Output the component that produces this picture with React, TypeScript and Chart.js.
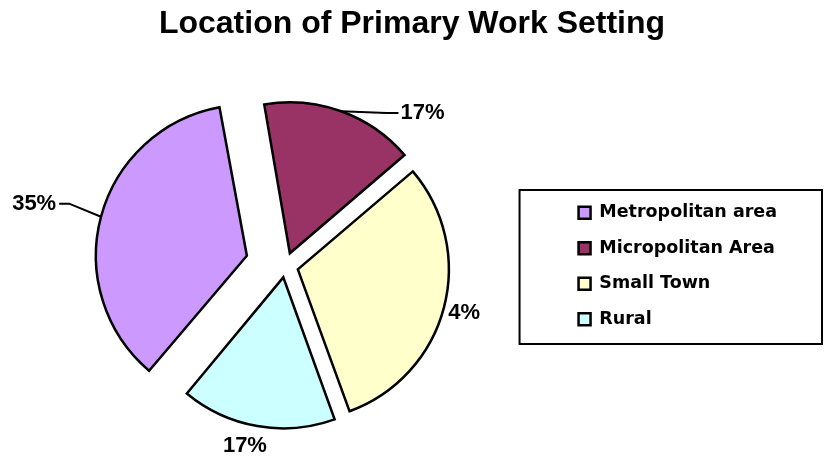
import React, { useEffect, useRef } from "react";
import { Chart, registerables } from "chart.js";

Chart.register(...registerables);

// ---- data ----
const TITLE = "Location of Primary Work Setting";
const categories = ["Metropolitan area", "Micropolitan Area", "Small Town", "Rural"];
// slice sizes (share of the pie)
const shares = [36.2, 16.5, 30.7, 16.6];
// data labels exactly as printed on the chart
const pctLabels = ["35%", "17%", "4%", "17%"];

// ---- styling ----
const colors = ["#CC99FF", "#993366", "#FFFFCC", "#CCFFFF"];
const EXPLODE = [159, 54, 52, 46]; // chart.js arc offset (translation = offset / 4)
const RADIUS = 151;
const START_ROTATION = 219.8;
const ARIAL = "'Liberation Sans', Arial, Helvetica, sans-serif";
const LEGEND_FONT = "'DejaVu Sans', 'Liberation Sans', sans-serif";
const TITLE_AREA = 74;

// label placement relative to each slice's own (exploded) centre
const LABEL_PLACE = [
  { dAngle: -1.2, dist: 219, leader: true },
  { dAngle: 23.6, dist: 193, leader: true },
  { dAngle: 0, dist: 172, leader: false },
  { dAngle: 2.9, dist: 173, leader: false },
];

// keep every exploded slice at the same visible radius
const radiusFix = {
  id: "radiusFix",
  afterDatasetsUpdate(chart: any) {
    const meta = chart.getDatasetMeta(0);
    meta.data.forEach((el: any) => {
      const off = ((el.options && el.options.offset) || 0) / 4;
      const fix = 1 - Math.sin(Math.min(Math.PI, el.circumference || 0));
      el.outerRadius = RADIUS - off * fix;
    });
  },
};

// title centred on the whole canvas width
const pageTitle = {
  id: "pageTitle",
  afterDraw(chart: any) {
    const ctx = chart.ctx as CanvasRenderingContext2D;
    ctx.save();
    ctx.font = `bold 32px ${ARIAL}`;
    ctx.fillStyle = "#000";
    ctx.textAlign = "center";
    ctx.textBaseline = "middle";
    ctx.fillText(TITLE, chart.width / 2, 24);
    ctx.restore();
  },
};

const pieLabels = {
  id: "pieLabels",
  afterDatasetsDraw(chart: any) {
    const ctx = chart.ctx as CanvasRenderingContext2D;
    const meta = chart.getDatasetMeta(0);
    ctx.save();
    ctx.font = `bold 22px ${ARIAL}`;
    ctx.fillStyle = "#000";
    ctx.strokeStyle = "#000";
    ctx.lineWidth = 2;
    ctx.textBaseline = "middle";
    ctx.textAlign = "center";
    meta.data.forEach((el: any, i: number) => {
      const { x, y, startAngle, endAngle } = el;
      const mid = (startAngle + endAngle) / 2;
      const off = ((el.options && el.options.offset) || 0) / 4;
      const tx = x + Math.cos(mid) * off;
      const ty = y + Math.sin(mid) * off;
      const p = LABEL_PLACE[i];
      const a = mid + (p.dAngle * Math.PI) / 180;
      const lx = tx + Math.cos(a) * p.dist;
      const ly = ty + Math.sin(a) * p.dist;
      const text = pctLabels[i];
      const w = ctx.measureText(text).width;
      ctx.fillText(text, lx, ly);
      if (p.leader) {
        const ax = tx + Math.cos(mid) * RADIUS;
        const ay = ty + Math.sin(mid) * RADIUS;
        const leftSide = lx < ax;
        const edge = leftSide ? lx + w / 2 + 3 : lx - w / 2 - 2;
        const bend = leftSide ? edge + 10 : edge - 12;
        ctx.beginPath();
        ctx.moveTo(ax, ay);
        ctx.lineTo(bend, ly);
        ctx.lineTo(edge, ly);
        ctx.stroke();
      }
    });
    ctx.restore();
  },
};

const legendFrame = {
  id: "legendFrame",
  afterDraw(chart: any) {
    const lg = chart.legend;
    if (!lg || !lg.legendHitBoxes || !lg.legendHitBoxes.length) return;
    const hb = lg.legendHitBoxes;
    const first = hb[0];
    const last = hb[hb.length - 1];
    const left = first.left - 59;
    const top = first.top - 14;
    const bottom = last.top + last.height + 16;
    const right = chart.width - 2;
    const ctx = chart.ctx as CanvasRenderingContext2D;
    ctx.save();
    ctx.strokeStyle = "#000";
    ctx.lineWidth = 2;
    ctx.strokeRect(left, top, right - left, bottom - top);
    ctx.restore();
  },
};

export default function App() {
  const ref = useRef<HTMLCanvasElement | null>(null);
  useEffect(() => {
    if (!ref.current) return;
    const chart = new Chart(ref.current, {
      type: "pie",
      data: {
        labels: categories,
        datasets: [
          {
            data: shares,
            backgroundColor: colors,
            borderColor: "#000",
            borderWidth: 2.5,
            borderJoinStyle: "miter",
            offset: EXPLODE,
            hoverOffset: 0,
          } as any,
        ],
      },
      options: {
        responsive: false,
        animation: false,
        events: [],
        rotation: START_ROTATION,
        radius: RADIUS,
        layout: { padding: { left: 10, right: 37, top: TITLE_AREA, bottom: 0 } },
        plugins: {
          title: { display: false },
          legend: {
            display: true,
            position: "right",
            align: "center",
            fullSize: false,
            labels: {
              boxWidth: 12,
              boxHeight: 12,
              padding: 18,
              color: "#000",
              font: { family: LEGEND_FONT, size: 17.5, weight: "bold" },
            },
          },
          tooltip: { enabled: false },
        },
      } as any,
      plugins: [radiusFix, pieLabels, legendFrame, pageTitle],
    });
    return () => chart.destroy();
  }, []);
  return (
    <div style={{ position: "fixed", left: 0, top: 0, width: 824, height: 458, background: "#fff" }}>
      <canvas ref={ref} width={824} height={458} style={{ display: "block" }} />
    </div>
  );
}
